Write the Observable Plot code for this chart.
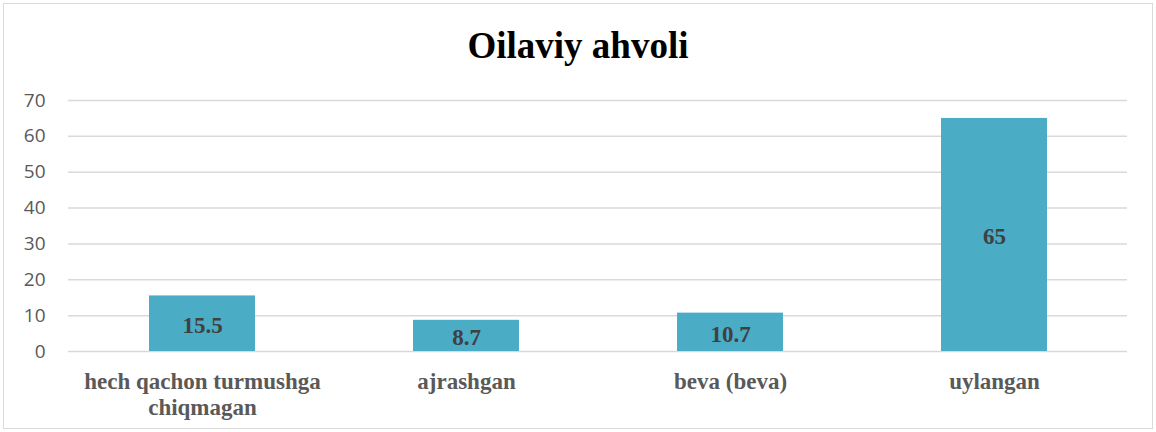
<!DOCTYPE html>
<html>
<head>
<meta charset="utf-8">
<script src="https://cdn.jsdelivr.net/npm/d3@7"></script>
<script src="https://cdn.jsdelivr.net/npm/@observablehq/plot@0.6"></script>
<style>
  html, body { margin: 0; padding: 0; background: #fff; }
  #wrap { position: relative; width: 1156px; height: 432px; overflow: hidden; }
  #title { height: 78px; box-sizing: border-box; padding-top: 27px; line-height: 37px;
           font-family: "Liberation Serif", "Times New Roman", serif; font-weight: bold;
           font-size: 37px; text-align: center; color: #000; }
  #frame { position: absolute; left: 3px; top: 3px; width: 1150px; height: 426px;
           box-sizing: border-box; border: 1px solid #d9d9d9; pointer-events: none; }
  svg { display: block; }
</style>
</head>
<body>
<div id="wrap">
  <div id="title">Oilaviy ahvoli</div>
  <div id="chart"></div>
  <div id="frame"></div>
</div>
<script>
const categories = ["hech qachon turmushga chiqmagan", "ajrashgan", "beva (beva)", "uylangan"];
const values = [15.5, 8.7, 10.7, 65];
const tickLabels = ["hech qachon turmushga\nchiqmagan", "ajrashgan", "beva (beva)", "uylangan"];
const yTicks = [0, 10, 20, 30, 40, 50, 60, 70];

const data = categories.map((c, i) => ({category: c, value: values[i]}));
const labelOf = new Map(categories.map((c, i) => [c, tickLabels[i]]));

const chart = Plot.plot({
  width: 1156,
  height: 354,
  marginTop: 22,
  marginBottom: 81,
  marginLeft: 68,
  marginRight: 29,
  style: {color: "#595959", background: "transparent"},
  x: {domain: categories, paddingInner: 0.6, paddingOuter: 0.3, label: null},
  y: {domain: [0, 70], label: null},
  marks: [
    Plot.gridY({ticks: yTicks, stroke: "#d9d9d9", strokeOpacity: 1, strokeWidth: 1.5}),
    Plot.barY(data, {x: "category", y: "value", fill: "#4BACC6"}),
    Plot.text(data, {x: "category", y: d => d.value / 2, text: d => String(d.value),
      fontFamily: "Liberation Serif", fontWeight: "bold", fontSize: 23, fill: "#404040", dy: 2}),
    Plot.axisY({ticks: yTicks, tickSize: 0, tickPadding: 23, fontSize: 19,
      fontFamily: "Open Sans", fill: "#595959", label: null}),
    Plot.axisX({tickSize: 0, tickPadding: 20, fontSize: 23, fontWeight: "bold",
      fontFamily: "Liberation Serif", fill: "#595959", lineHeight: 1.1,
      tickFormat: d => labelOf.get(d), label: null})
  ]
});
document.getElementById("chart").appendChild(chart);
</script>
</body>
</html>
